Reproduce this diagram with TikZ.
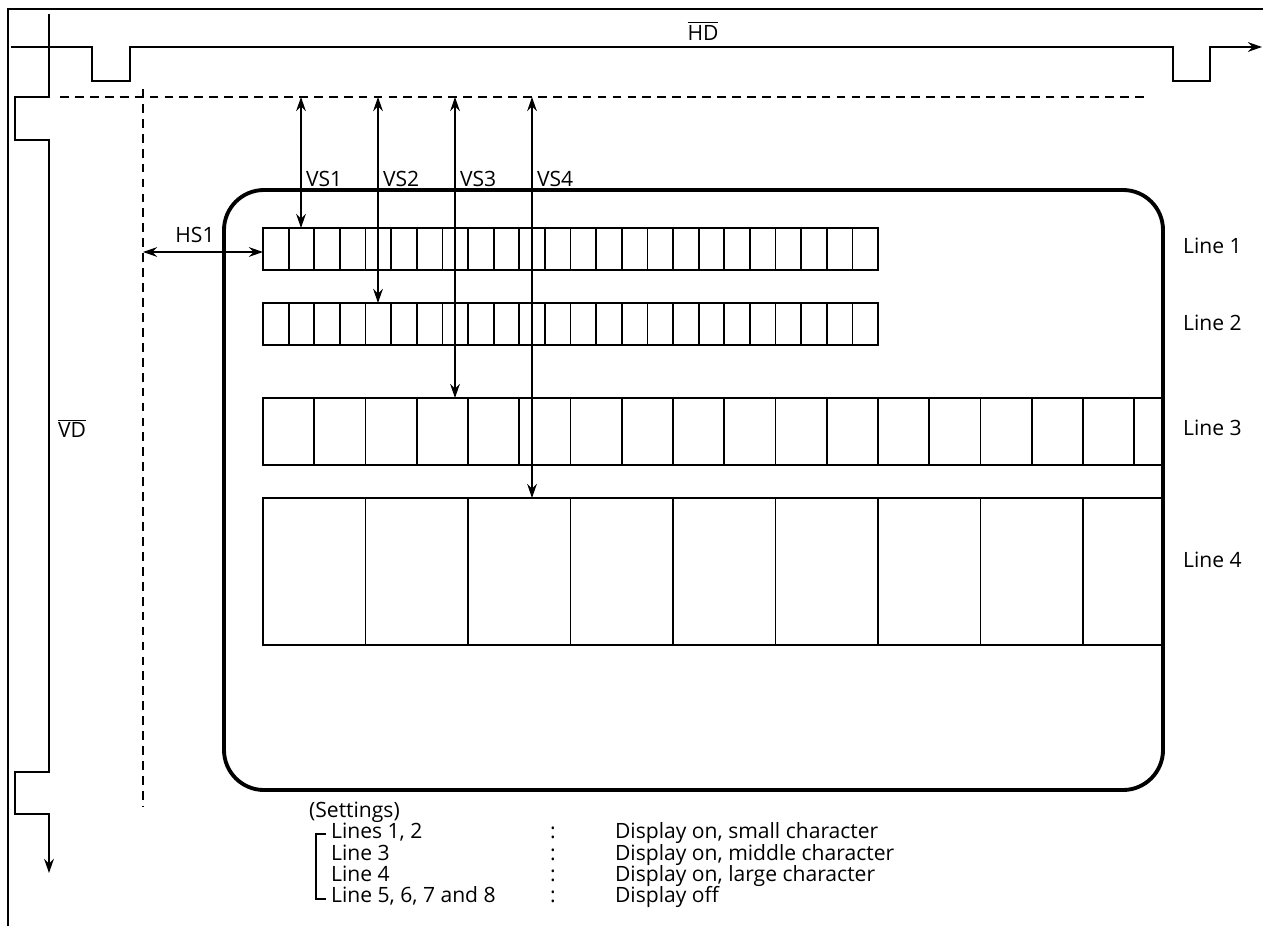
\documentclass[tikz,border=0pt]{standalone}
\usepackage{fontspec}
\setmainfont{Open Sans}
\usetikzlibrary{arrows.meta,positioning,calc}

\begin{document}
\begin{tikzpicture}[
  x=0.02cm, y=-0.02cm,
  every node/.style={font=\fontsize{12}{14}\selectfont, inner sep=1pt},
  frame/.style={line width=1.1pt},
  sig/.style={line width=1.1pt, -{Stealth[length=8pt,width=5.5pt]}},
  guide/.style={line width=0.9pt, dash pattern=on 5pt off 3.5pt},
  screen/.style={line width=2.2pt, rounded corners=0.8cm},
  cell/.style={line width=1pt},
  dim/.style={line width=1pt, {Stealth[length=8pt,width=5.5pt]}-{Stealth[length=8pt,width=5.5pt]}},
  lbl/.style={anchor=west, text height=1.6ex, text depth=0.4ex},
]
  \useasboundingbox (0,0) rectangle (1263,926);

  % frame and sync signals
  \draw[frame] (1263,9) -- (8,9) -- (8,926);
  \draw[sig] (11,47) -- (92,47) -- (92,81) -- (130,81) -- (130,47) -- (1173,47)
    -- (1173,81) -- (1210,81) -- (1210,47) -- (1262,47);
  \draw[sig] (49,14) -- (49,97) -- (15,97) -- (15,140) -- (49,140) -- (49,772)
    -- (15,772) -- (15,814) -- (49,814) -- (49,873);
  \node (hd) at (703,31) {$\overline{\mbox{HD}}$};
  \node[lbl] (vd) at (56,432) {$\overline{\mbox{VD}}$};

  % display start references
  \draw[guide] (60,97) -- (1148,97);
  \draw[guide] (143,89) -- (143,807);

  % screen
  \draw[screen] (224,190) rectangle (1163,790);

  % line 1 and line 2 (small)
  \foreach \y in {228,303} {
    \foreach \i in {0,...,23}
      \draw[cell] (263+\i*25.625,\y) rectangle ++(25.625,42);
  }
  % line 3 (middle)
  \draw[cell] (1163,398) -- (263,398) -- (263,465) -- (1163,465);
  \foreach \i in {1,...,17}
    \draw[cell] (263+\i*51.25,398) -- ++(0,67);
  % line 4 (large)
  \draw[cell] (1163,498) -- (263,498) -- (263,645) -- (1163,645);
  \foreach \i in {1,...,8}
    \draw[cell] (263+\i*102.5,498) -- ++(0,147);

  % vertical start positions
  \foreach \n/\x/\y in {1/301/228, 2/378/303, 3/455/398, 4/532/498} {
    \coordinate (vs\n a) at (\x,97);
    \coordinate (vs\n b) at (\x,\y);
    \draw[dim] (vs\n a) -- (vs\n b);
    \node[lbl] (vs\n) at (\x+3,181) {VS\n};
  }

  % horizontal start position
  \coordinate (hs1a) at (143,252);
  \coordinate (hs1b) at (263,252);
  \draw[dim] (hs1a) -- (hs1b);
  \node (hs1) at (195,235) {HS1};

  % line labels
  \node[lbl] (l1) at (1181,248) {Line 1};
  \node[lbl] (l2) at (1181,325) {Line 2};
  \node[lbl] (l3) at (1181,430) {Line 3};
  \node[lbl] (l4) at (1181,562) {Line 4};

  % settings
  \node[lbl] (set) at (307,812) {(Settings)};
  \draw[frame, line width=0.9pt] (326,834) -- (316,834) -- (316,899) -- (326,899);
  \foreach \k/\y/\a/\b in {1/833/{Lines 1, 2}/{Display on, small character},
      2/855/{Line 3}/{Display on, middle character},
      3/876/{Line 4}/{Display on, large character},
      4/897/{Line 5, 6, 7 and 8}/{Display off}} {
    \node[lbl] (sa\k) at (329,\y) {\a};
    \node[lbl] (sc\k) at (548,\y) {:};
    \node[lbl] (sb\k) at (613,\y) {\b};
  }
\end{tikzpicture}
\end{document}
